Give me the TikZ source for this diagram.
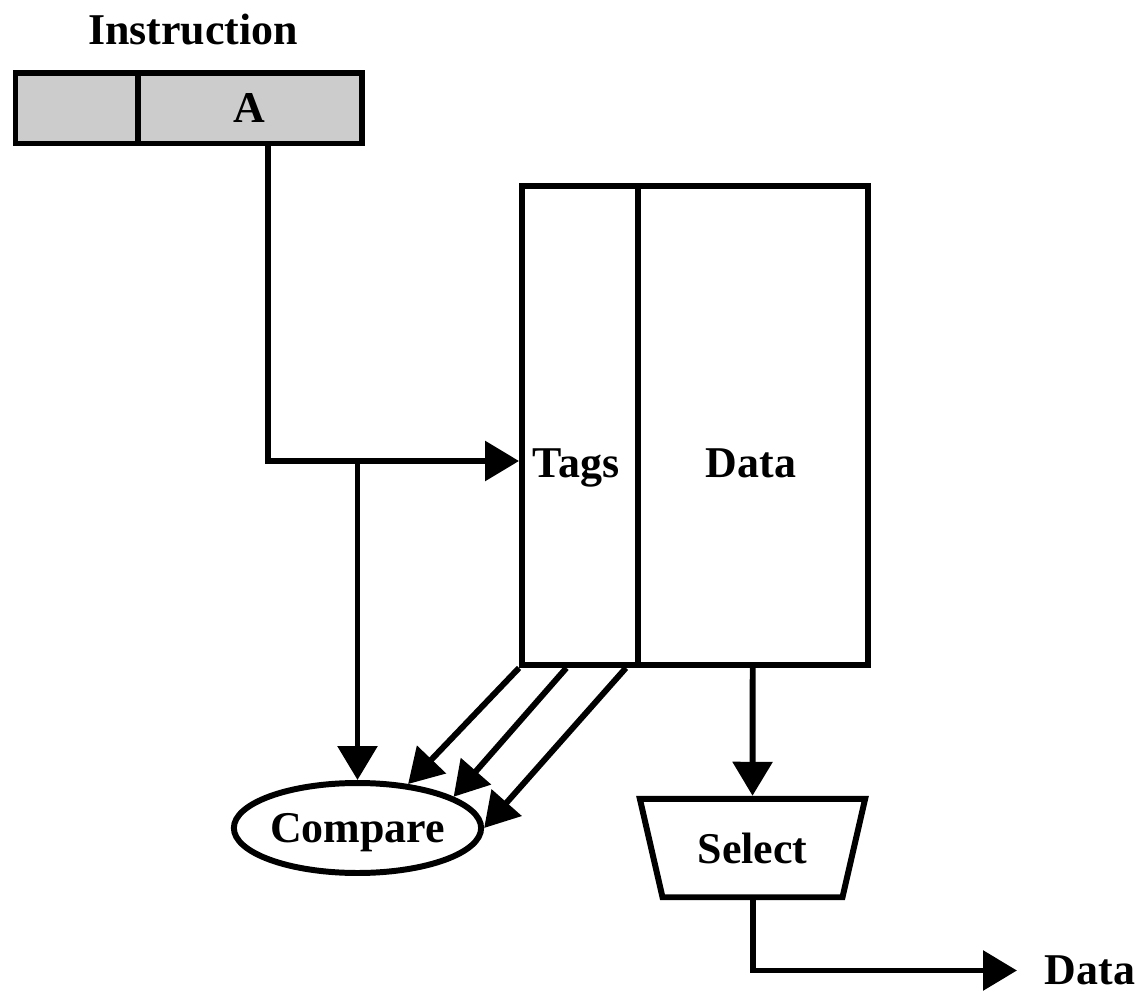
\documentclass[tikz,border=0pt]{standalone}
\usepackage{fontspec}
\setmainfont{Liberation Serif}
\usetikzlibrary{arrows.meta,shapes.geometric,calc}
\begin{document}
\begin{tikzpicture}[x=0.02cm,y=-0.02cm,line width=3.4pt,
  lbl/.style={font=\fontsize{25}{30}\selectfont\bfseries,inner sep=0},
  cell/.style={draw,rectangle,inner sep=0,font=\fontsize{25}{30}\selectfont\bfseries},
  arr/.style={-{Triangle[length=0.68cm,width=0.78cm]}}]
\useasboundingbox (0,0) rectangle (1143,993);

% instruction register
\node[lbl,anchor=base] (instr) at (193,45) {Instruction};
\node[cell,fill=black!20,minimum width=2.444cm,minimum height=1.41cm] (opcode) at (76.6,108.25) {};
\node[cell,fill=black!20,minimum width=4.48cm,minimum height=1.41cm,text depth=0pt] (addr) at (249.7,108.25) {A};

% cache memory: tags and data
\node[cell,minimum width=2.31cm,minimum height=9.58cm] (tags) at (579.75,425.5) {};
\node[cell,minimum width=4.61cm,minimum height=9.58cm] (data) at (752.75,425.5) {};
\node[lbl,anchor=base] (tagsT) at (576,477) {Tags};
\node[lbl,anchor=base] (dataT) at (751,477) {Data};

% comparator and selector
\node[draw,ellipse,inner sep=0,minimum width=4.74cm,minimum height=1.8cm,
      font=\fontsize{25}{30}\selectfont\bfseries,text depth=0pt] (compare) at (357.5,828) {Compare};
\node[draw,trapezium,shape border rotate=180,trapezium stretches=true,
      trapezium left angle=65.9,trapezium right angle=65.9,inner sep=0,
      minimum width=4.54cm,minimum height=1.97cm,
      font=\fontsize{25}{30}\selectfont\bfseries] (select) at (752.5,848) {Select};

% output label
\node[lbl,anchor=west,inner xsep=0.5cm,text depth=0pt] (out) at (1017,970.5) {Data};

% address path
\coordinate (tap) at (268,143.5);
\coordinate (bend) at (268,461);
\draw[arr] (tap) -- (bend) -- (bend -| tags.west);
\draw[arr] (bend -| compare.north) -- (compare.north);

% tag comparisons
\coordinate (t1) at (tags.south west);
\coordinate (t2) at ($(tags.south west)!0.39!(tags.south east)$);
\coordinate (t3) at ($(tags.south west)!0.88!(tags.south east)$);
\draw[arr] (t1) -- (compare.41.7);
\draw[arr] (t2) -- (compare.18.5);
\draw[arr] (t3) -- (compare.0.5);

% data path
\draw[arr] (data.south) -- (select.north);
\draw[arr] (select.south) |- (out.west);
\end{tikzpicture}
\end{document}
